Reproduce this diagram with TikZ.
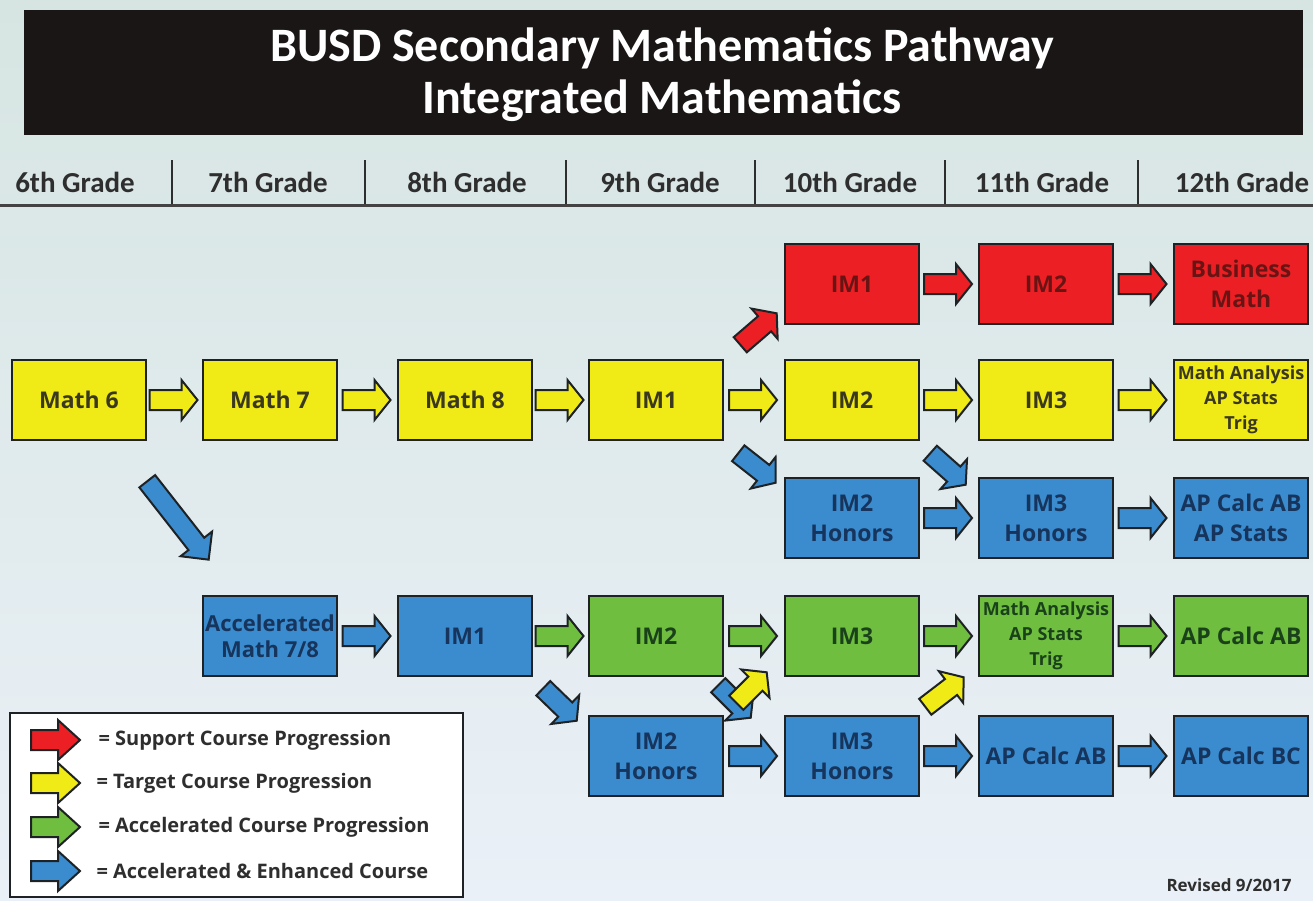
\documentclass[tikz,border=0pt]{standalone}
\usepackage{fontspec}
\setmainfont{Open Sans}
\newfontfamily\califont{Carlito}
\usetikzlibrary{calc}

\definecolor{yelfill}{RGB}{240,234,22}
\definecolor{redfill}{RGB}{236,32,36}
\definecolor{bluefill}{RGB}{58,140,206}
\definecolor{grnfill}{RGB}{112,190,64}
\definecolor{yeltext}{RGB}{58,56,30}
\definecolor{redtext}{RGB}{105,20,20}
\definecolor{bluetext}{RGB}{22,52,92}
\definecolor{grntext}{RGB}{26,66,26}
\definecolor{edge}{RGB}{30,34,36}
\definecolor{darktext}{RGB}{46,46,46}
\definecolor{barblack}{RGB}{26,22,22}
\definecolor{bgtop}{RGB}{214,229,226}
\definecolor{bgmid}{RGB}{197,216,229}
\definecolor{bgbot}{RGB}{234,240,247}

\tikzset{
  course/.style={draw=edge, line width=2.5pt, minimum width=134pt, minimum height=80pt,
    inner sep=0pt, align=center, font=\bfseries\fontsize{23}{30}\selectfont},
  small/.style={font=\bfseries\fontsize{18}{25}\selectfont},
  support/.style={course, fill=redfill, text=redtext},
  target/.style={course, fill=yelfill, text=yeltext},
  accel/.style={course, fill=grnfill, text=grntext},
  enhanced/.style={course, fill=bluefill, text=bluetext},
  fat/.style={draw=edge, line width=2pt, line join=miter},
  grade/.style={font=\califont\bfseries\fontsize{29}{30}\selectfont, text=darktext},
  key/.style={anchor=west, font=\bfseries\fontsize{20}{24}\selectfont, text=darktext},
}

% block arrow: [head length]{fill}{from}{to}
\newcommand{\fatarrow}[4][16]{%
  \draw[fat, fill=#2] let \p1=(#3), \p2=(#4),
    \n1={atan2(\y2-\y1,\x2-\x1)}, \n2={veclen(\x2-\x1,\y2-\y1)} in
    [shift={(\p1)}, rotate=\n1]
    (0pt,-10pt) -- ({\n2-#1pt},-10pt) -- ({\n2-#1pt},-20pt) -- ({\n2},0pt)
    -- ({\n2-#1pt},20pt) -- ({\n2-#1pt},10pt) -- (0pt,10pt) -- cycle;
}
% horizontal block arrow between two boxes
\newcommand{\hstep}[3]{%
  \fatarrow{#1}{$(#2.east)!.5!(#3.west)+(-25,0)$}{$(#2.east)!.5!(#3.west)+(23,0)$}
}

\begin{document}
\begin{tikzpicture}[x=1pt, y=1pt]
  \useasboundingbox (0,0) rectangle (1313,-900);
  \shade[top color=bgtop, middle color=bgmid, bottom color=bgbot] (0,0) rectangle (1313,-900);

  % Title
  \fill[barblack] (24,-10) rectangle (1303,-135);
  \node[align=center, text=white, font=\califont\bfseries\fontsize{48}{52}\selectfont]
    (title) at (662,-75) {BUSD Secondary Mathematics Pathway\\Integrated Mathematics};

  % Grades
  \node[grade] (g6) at (75,-182) {6th Grade};
  \node[grade] (g7) at (268,-182) {7th Grade};
  \node[grade] (g8) at (467,-182) {8th Grade};
  \node[grade] (g9) at (660,-182) {9th Grade};
  \node[grade] (g10) at (850,-182) {10th Grade};
  \node[grade] (g11) at (1042,-182) {11th Grade};
  \node[grade] (g12) at (1242,-182) {12th Grade};
  \foreach \x in {172,365,566,755,945,1138}
    \draw[darktext, line width=2pt] (\x,-160) -- (\x,-204);
  \draw[darktext!90, line width=3pt] (0,-205) -- (1313,-205);

  % Support row
  \node[support] (r10) at (852,-284) {IM1};
  \node[support] (r11) at (1046,-284) {IM2};
  \node[support] (r12) at (1241,-284) {Business\\Math};

  % Target row
  \node[target] (m6) at (79,-400) {Math 6};
  \node[target] (m7) at (270,-400) {Math 7};
  \node[target] (m8) at (465,-400) {Math 8};
  \node[target] (y9) at (656,-400) {IM1};
  \node[target] (y10) at (852,-400) {IM2};
  \node[target] (y11) at (1046,-400) {IM3};
  \node[target, small] (y12) at (1241,-400) {Math Analysis\\AP Stats\\Trig};

  % Honors row
  \node[enhanced] (h10) at (852,-518) {IM2\\Honors};
  \node[enhanced] (h11) at (1046,-518) {IM3\\Honors};
  \node[enhanced] (h12) at (1241,-518) {AP Calc AB\\AP Stats};

  % Accelerated row
  \node[enhanced, font=\bfseries\fontsize{22}{26}\selectfont] (acc) at (270,-636) {Accelerated\\Math 7/8};
  \node[enhanced] (b8) at (465,-636) {IM1};
  \node[accel] (a9) at (656,-636) {IM2};
  \node[accel] (a10) at (852,-636) {IM3};
  \node[accel, small] (a11) at (1046,-636) {Math Analysis\\AP Stats\\Trig};
  \node[accel] (a12) at (1241,-636) {AP Calc AB};

  % Accelerated honors row
  \node[enhanced] (e9) at (656,-756) {IM2\\Honors};
  \node[enhanced] (e10) at (852,-756) {IM3\\Honors};
  \node[enhanced] (e11) at (1046,-756) {AP Calc AB};
  \node[enhanced] (e12) at (1241,-756) {AP Calc BC};

  % Arrows
  \hstep{redfill}{r10}{r11}
  \hstep{redfill}{r11}{r12}
  \hstep{yelfill}{m6}{m7}
  \hstep{yelfill}{m7}{m8}
  \hstep{yelfill}{m8}{y9}
  \hstep{yelfill}{y9}{y10}
  \hstep{yelfill}{y10}{y11}
  \hstep{yelfill}{y11}{y12}
  \hstep{bluefill}{h10}{h11}
  \hstep{bluefill}{h11}{h12}
  \hstep{bluefill}{acc}{b8}
  \hstep{grnfill}{b8}{a9}
  \hstep{grnfill}{a9}{a10}
  \hstep{grnfill}{a10}{a11}
  \hstep{grnfill}{a11}{a12}
  \hstep{bluefill}{e9}{e10}
  \hstep{bluefill}{e10}{e11}
  \hstep{bluefill}{e11}{e12}

  \fatarrow{redfill}{$(y9.north east)+(16,14)$}{$(r10.south west)+(-7,12)$}
  \fatarrow{bluefill}{$(y9.south east)+(14,-12)$}{$(h10.north west)+(-8,-6)$}
  \fatarrow{bluefill}{$(y10.south east)+(10,-12)$}{$(h11.north west)+(-12,-8)$}
  \fatarrow[20]{bluefill}{$(m6.south east)+(0,-40)$}{$(acc.north west)+(7,35)$}
  \fatarrow{bluefill}{$(b8.south east)+(10,-11)$}{$(e9.north west)+(-11,-6)$}
  \fatarrow{bluefill}{$(a9.south east)+(-6,-8)$}{$(e10.north west)+(-33,-3)$}
  \fatarrow{yelfill}{$(e9.north east)+(12,12)$}{$(a10.south west)+(-17,5)$}
  \fatarrow{yelfill}{$(e10.north east)+(5,8)$}{$(a11.south west)+(-14,0)$}

  % Legend
  \draw[edge, fill=white, line width=2.5pt] (10,-713) rectangle (463,-897);
  \fatarrow[22]{redfill}{31,-740}{80,-740}
  \fatarrow[22]{yelfill}{31,-783}{80,-783}
  \fatarrow[22]{grnfill}{31,-827}{80,-827}
  \fatarrow[22]{bluefill}{31,-871}{80,-871}
  \node[key] (k1) at (95,-740) {= Support Course Progression};
  \node[key] (k2) at (93,-783) {= Target Course Progression};
  \node[key] (k3) at (95,-827) {= Accelerated Course Progression};
  \node[key] (k4) at (93,-871) {= Accelerated \& Enhanced Course};

  \node[font=\bfseries\fontsize{17}{20}\selectfont, text=darktext] (rev) at (1229,-885) {Revised 9/2017};
\end{tikzpicture}
\end{document}
